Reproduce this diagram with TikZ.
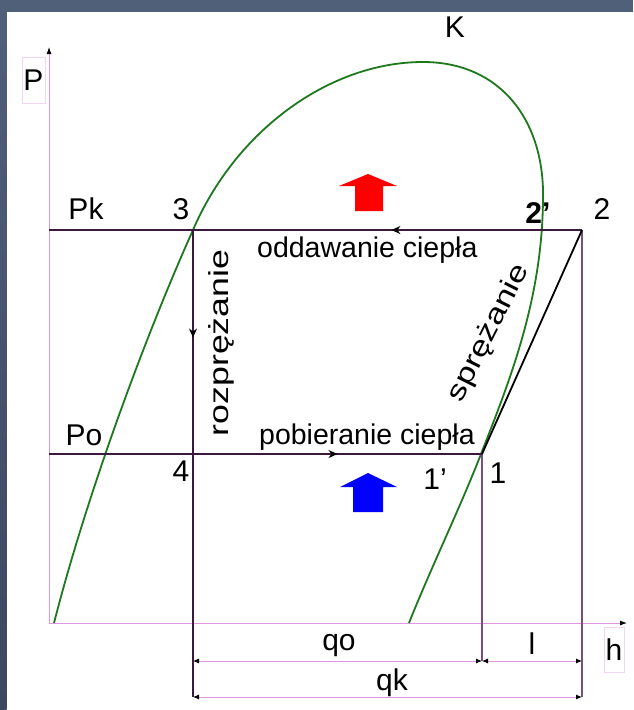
\documentclass[tikz,border=0pt]{standalone}
\usepackage{fontspec}
\setmainfont{Liberation Sans}
\usetikzlibrary{arrows.meta,decorations.markings,calc}
\definecolor{slate}{RGB}{80,96,120}
\definecolor{slatedark}{RGB}{58,72,96}
\definecolor{pinkline}{RGB}{226,150,226}
\definecolor{cycleline}{RGB}{60,25,60}
\definecolor{purpline}{RGB}{125,75,135}
\definecolor{curvegreen}{RGB}{30,120,30}
\definecolor{heatred}{RGB}{255,0,0}
\definecolor{coldblue}{RGB}{0,0,255}
\tikzset{
  axisline/.style={pinkline, line width=0.9pt, -{Latex[length=7pt,width=5pt,black]}},
  cycle/.style={cycleline, line width=1.6pt},
  guide/.style={purpline, line width=1.3pt},
  dimline/.style={pinkline, line width=0.9pt, {Latex[length=6pt,width=5pt,black]}-{Latex[length=6pt,width=5pt,black]}},
  midarrow/.style={postaction={decorate}, decoration={markings, mark=at position #1 with {\arrow{Stealth[length=9pt,width=8pt,black]}}}},
  lbl/.style={font=\fontsize{30}{32}\selectfont, inner sep=0pt},
  txt/.style={font=\fontsize{28.5}{30}\selectfont, inner sep=0pt},
  rtxt/.style={font=\fontsize{27.5}{29}\selectfont, inner sep=0pt},
  satcurve/.style={curvegreen, line width=1.8pt}
}
\begin{document}
\begin{tikzpicture}[x=1pt,y=-1pt]
\useasboundingbox (0,0) rectangle (633,710);
\fill[white] (0,0) rectangle (633,710);
\shade[top color=slate, bottom color=slatedark] (0,0) rectangle (6.5,710);
\fill[slate] (0,0) rectangle (633,12);

% key points
\coordinate (p1) at (482,454);
\coordinate (p2) at (582,230);
\coordinate (p3) at (193,230);
\coordinate (p4) at (193,454);
\coordinate (o) at (49,623);
\coordinate (ptop) at (49,47);
\coordinate (hend) at (627,623);
\coordinate (pkL) at (49,230);
\coordinate (poL) at (49,454);
\coordinate (a4) at (193,697);
\coordinate (a1) at (482,661);
\coordinate (a2) at (582,697);
\coordinate (d4a) at (193,661);
\coordinate (d1a) at (482,661);
\coordinate (d2a) at (582,661);
\coordinate (d4b) at (193,697);
\coordinate (d2b) at (582,697);

% saturation curve points
\coordinate (c0) at (54,623);
\coordinate (c1) at (193,230);
\coordinate (c2) at (423,62);
\coordinate (c3) at (543,200);
\coordinate (c4) at (481,454);
\coordinate (c5) at (409,623);

% axes
\draw[axisline] (o) -- (ptop);
\draw[axisline] (o) -- (hend);

% saturation curve
\draw[satcurve] (c0) .. controls (88,490) and (148,330) .. (c1)
  .. controls (236,130) and (330,62) .. (c2)
  .. controls (500,62) and (545,120) .. (c3)
  .. controls (542,300) and (510,380) .. (c4)
  .. controls (460,508) and (430,570) .. (c5);

% guide lines
\draw[cycle] (pkL) -- (p3);
\draw[cycle] (poL) -- (p4);
\draw[cycle] (p4) -- (a4);
\draw[guide] (p1) -- (a1);
\draw[guide] (p2) -- (a2);

% cycle
\draw[cycle, midarrow=0.49] (p2) -- (p3);
\draw[cycle, midarrow=0.48] (p3) -- (p4);
\draw[cycle, midarrow=0.50] (p4) -- (p1);
\draw[black, line width=1.8pt] (p1) -- (p2);

% dimension lines
\draw[dimline] (d4a) -- (d1a);
\draw[dimline] (d1a) -- (d2a);
\draw[dimline] (d4b) -- (d2b);

% heat arrows
\fill[heatred] (368,174) -- (397,186) -- (383,186) -- (383,211) -- (355,211) -- (355,186) -- (339,186) -- cycle;
\fill[coldblue] (368,473) -- (397,487) -- (383,487) -- (383,512) -- (353,512) -- (353,487) -- (340,487) -- cycle;

% labels
\node[lbl, draw=pinkline!40, minimum width=23pt, minimum height=46pt] (lP) at (33.5,80) {P};
\node[lbl] (lK) at (455,27) {K};
\node[lbl] (lPk) at (86,209) {Pk};
\node[lbl] (l3) at (181,209) {3};
\node[lbl] (lPo) at (84,435) {Po};
\node[lbl] (l4) at (181,471) {4};
\node[lbl] (l1) at (498,473) {1};
\node[lbl] (l1p) at (435,479) {1’};
\node[lbl] (l2) at (602,209) {2};
\node[lbl, font=\fontsize{30}{32}\selectfont\bfseries] (l2p) at (538,213) {2’};
\node[lbl, draw=pinkline!40, minimum width=20pt, minimum height=45pt] (lh) at (614,650) {h};
\node[lbl] (lqo) at (339,646) {qo};
\node[lbl] (ll) at (532,644) {l};
\node[lbl] (lqk) at (392,683) {qk};

\node[txt, anchor=base west] (odd) at (257,257) {oddawanie ciepła};
\node[txt, anchor=base west] (pob) at (259,444) {pobieranie ciepła};
\node[rtxt, rotate=90] (roz) at (221,343) {\scalebox{1.3}[1]{rozprężanie}};
\node[rtxt, rotate=63.4] (spr) at (489,333) {\scalebox{1.26}[1]{sprężanie}};
\end{tikzpicture}
\end{document}
